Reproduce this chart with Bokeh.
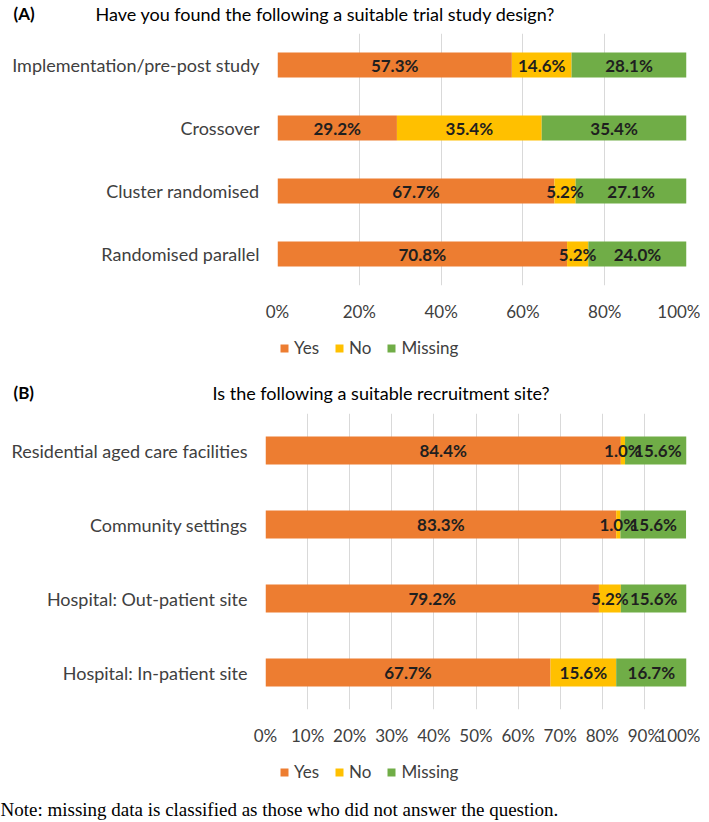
from bokeh.plotting import figure
from bokeh.layouts import column
from bokeh.models import (ColumnDataSource, FactorRange, Range1d, FixedTicker,
                          PrintfTickFormatter, Legend, LegendItem)
from bokeh.core.properties import value
from bokeh.embed import file_html
from bokeh.resources import INLINE

# ---------------- data ----------------
series = ["Yes", "No", "Missing"]
colors = ["#ED7D31", "#FFC000", "#70AD47"]

a_tag = "(A)"
a_title = "Have you found the following a suitable trial study design?"
a_cats = ["Implementation/pre-post study", "Crossover", "Cluster randomised", "Randomised parallel"]
a_yes = [57.3, 29.2, 67.7, 70.8]
a_no = [14.6, 35.4, 5.2, 5.2]
a_missing = [28.1, 35.4, 27.1, 24.0]
a_ticks = [0, 20, 40, 60, 80, 100]

b_tag = "(B)"
b_title = "Is the following a suitable recruitment site?"
b_cats = ["Residential aged care facilities", "Community settings",
          "Hospital: Out-patient site", "Hospital: In-patient site"]
b_yes = [84.4, 83.3, 79.2, 67.7]
b_no = [1.0, 1.0, 5.2, 15.6]
b_missing = [15.6, 15.6, 15.6, 16.7]
b_ticks = [0, 10, 20, 30, 40, 50, 60, 70, 80, 90, 100]

note = "Note: missing data is classified as those who did not answer the question."

FONT = "Lato"
TXT = "#404040"
W = 700


def blank(height):
    p = figure(width=W, height=height, x_range=Range1d(0, W), y_range=Range1d(height, 0),
               output_backend="svg", toolbar_location=None, min_border=0,
               x_axis_type=None, y_axis_type=None, frame_align=False)
    p.outline_line_color = None
    return p


def header(tag, title, title_x, height, cy):
    p = blank(height)
    p.text(x=[13], y=[cy], text=[tag], text_font=value(FONT), text_font_style="bold",
           text_font_size="17px", text_color="#000000", text_baseline="middle")
    p.text(x=[title_x], y=[cy], text=[title], text_font=value(FONT),
           text_font_size="18px", text_color="#000000", text_baseline="middle")
    return p


def legend_fig(src, height, lx, ly):
    # legend strip: zero-height proxy bars carry the series colours for the legend keys
    p = blank(height)
    rs = [p.hbar(y=0, left=0, right=s, height=0, source=src, fill_color=c, line_color=None)
          for s, c in zip(series, colors)]
    items = [LegendItem(label=s, renderers=[r]) for s, r in zip(series, rs)]
    leg = Legend(items=items, orientation="horizontal", location=(lx, ly),
                 glyph_width=10, glyph_height=10, label_standoff=5, spacing=15,
                 padding=0, margin=0, border_line_color=None, background_fill_alpha=0,
                 label_text_font=FONT, label_text_font_size="17px", label_text_color=TXT,
                 label_height=20)
    p.add_layout(leg, "center")
    return p


def chart(src, cats, yes, no, missing, ticks, height, border_left, border_top,
          border_bottom, bar_h):
    p = figure(width=W, height=height, output_backend="svg", toolbar_location=None,
               y_range=FactorRange(factors=list(reversed(cats))),
               x_range=Range1d(0, 100), frame_align=False,
               min_border_left=border_left, min_border_top=border_top,
               min_border_bottom=border_bottom, min_border_right=W - 686)
    p.hbar_stack(series, y="cat", height=bar_h, color=colors, line_color=None, source=src)

    lx, ly, lt = [], [], []
    for c, a, b, m in zip(cats, yes, no, missing):
        for start, v in ((0, a), (a, b), (a + b, m)):
            lx.append(start + v / 2.0)
            ly.append(c)
            lt.append(f"{v:.1f}%")
    p.text(x=lx, y=ly, text=lt, text_align="center", text_baseline="middle",
           text_font=value(FONT), text_font_style="bold", text_font_size="17px",
           text_color="#1f1f1f")

    p.outline_line_color = None
    p.ygrid.grid_line_color = None
    p.xgrid.grid_line_color = "#D9D9D9"
    p.xgrid.grid_line_width = 1
    p.xaxis.ticker = FixedTicker(ticks=ticks)
    p.xaxis.formatter = PrintfTickFormatter(format="%d%%")
    p.xaxis.minor_tick_line_color = None
    for ax in (p.xaxis, p.yaxis):
        ax.axis_line_color = None
        ax.major_tick_line_color = None
        ax.major_tick_out = 0
        ax.major_tick_in = 0
        ax.major_label_text_font = FONT
        ax.major_label_text_color = TXT
    p.xaxis.major_label_text_font_size = "17px"
    p.xaxis.major_label_standoff = 15
    p.yaxis.major_label_text_font_size = "18px"
    p.yaxis.major_label_standoff = 18
    return p


src_a = ColumnDataSource(dict(cat=a_cats, Yes=a_yes, No=a_no, Missing=a_missing))
src_b = ColumnDataSource(dict(cat=b_cats, Yes=b_yes, No=b_no, Missing=b_missing))

ha = header(a_tag, a_title, 95, 28, 13)
pa = chart(src_a, a_cats, a_yes, a_no, a_missing, a_ticks, height=302,
           border_left=277, border_top=5, border_bottom=45, bar_h=0.4)
la = legend_fig(src_a, 42, 279, 14)
hb = header(b_tag, b_title, 212, 33, 20)
pb = chart(src_b, b_cats, b_yes, b_no, b_missing, b_ticks, height=345,
           border_left=265, border_top=8, border_bottom=41, bar_h=0.38)
lb = legend_fig(src_b, 40, 279, 8)
nf = blank(30)
nf.text(x=[0], y=[19], text=[note], text_font=value("Liberation Serif"),
        text_font_size="19px", text_color="#000000", text_baseline="middle")

layout = column(ha, pa, la, hb, pb, lb, nf, spacing=0)
open("out.html", "w").write(file_html(layout, INLINE))
